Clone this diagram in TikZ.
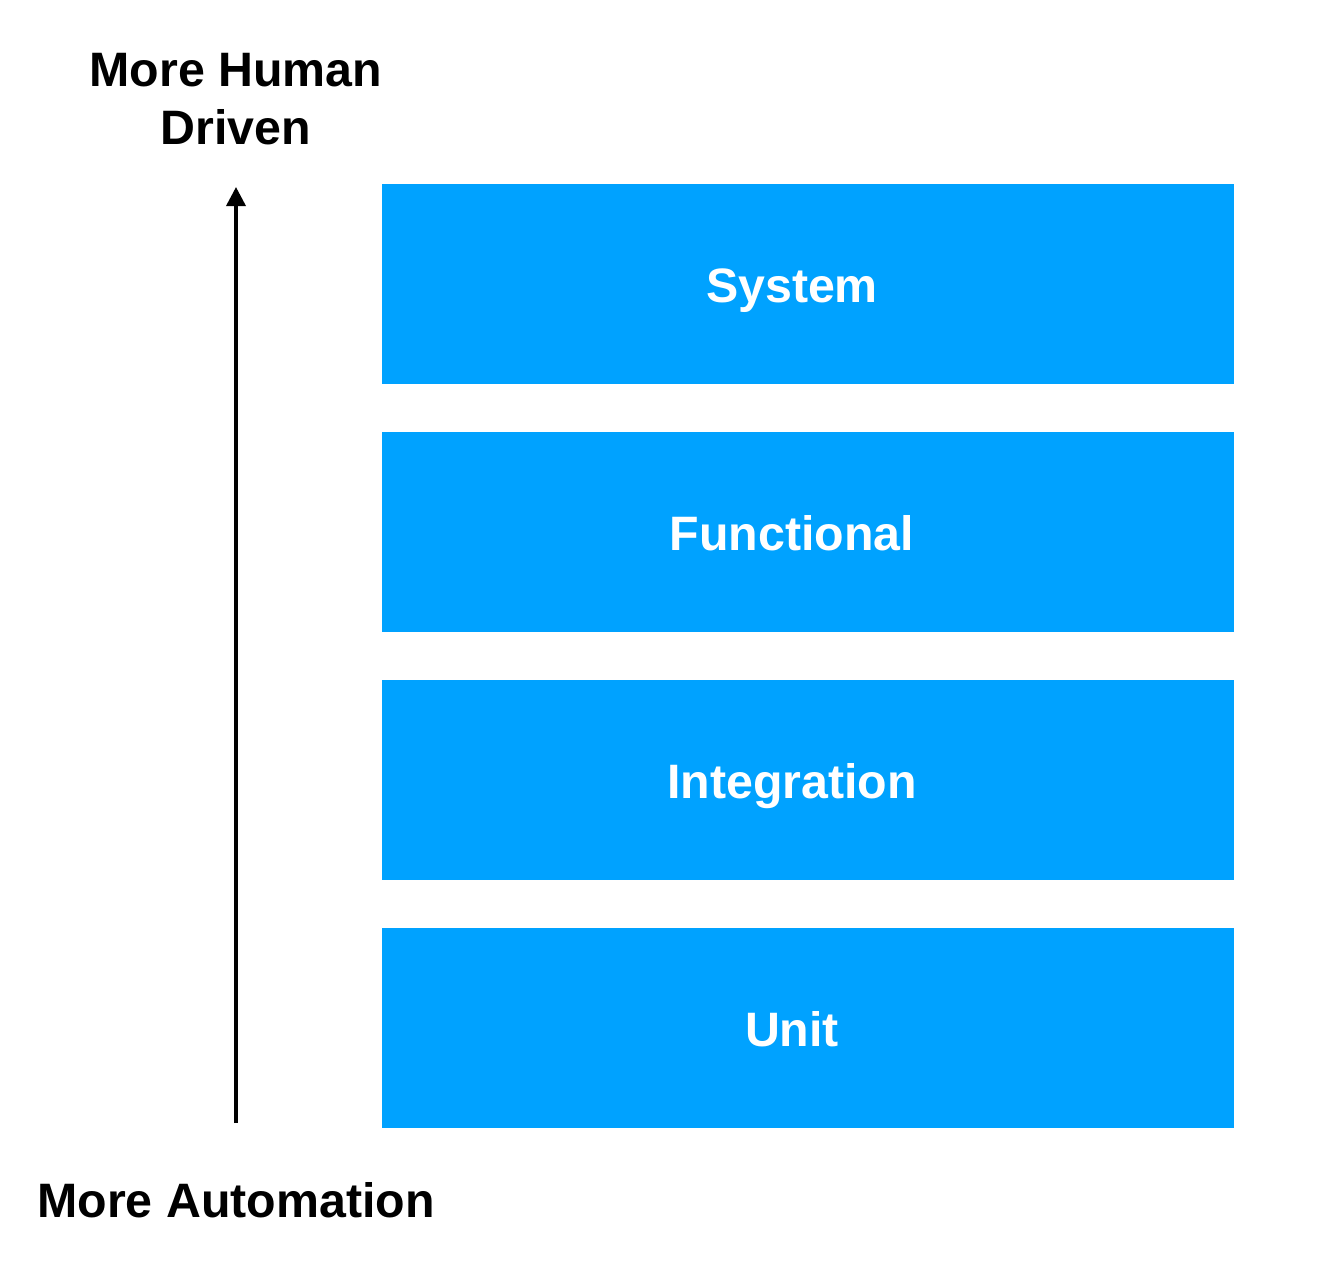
\documentclass[tikz,border=0pt]{standalone}
\usepackage{fontspec}
\setmainfont{Liberation Sans}
\usetikzlibrary{arrows.meta}
\definecolor{layerblue}{RGB}{0,162,255}
\tikzset{
	layer/.style={fill=layerblue, draw=none, minimum width=17.04cm, minimum height=4cm, inner sep=0pt},
	lbl/.style={text=white, font=\fontsize{27.5}{33}\selectfont\bfseries, inner sep=0pt, text height=0.69cm, text depth=0pt, xshift=-0.32cm, yshift=-0.03cm},
	side/.style={font=\fontsize{27.5}{33}\selectfont\bfseries, inner sep=0pt, align=center}
}
\begin{document}
\begin{tikzpicture}[x=0.02cm, y=-0.02cm]
	\useasboundingbox (0, 0) rectangle (1332, 1272);

	\node[layer, label={[lbl]center:System}] (system) at (808, 284) {};
	\node[layer, label={[lbl]center:Functional}] (functional) at (808, 532) {};
	\node[layer, label={[lbl]center:Integration}] (integration) at (808, 780) {};
	\node[layer, label={[lbl]center:Unit}] (unit) at (808, 1028) {};

	\node[side, anchor=north] (human) at (236, 53) {More Human\\Driven};
	\node[side, anchor=base] (auto) at (236, 1217) {More Automation};

	\coordinate (low) at (236, 1123);
	\coordinate (high) at (236, 187);
	\draw[line width=2pt, -{Triangle[length=0.38cm, width=0.38cm]}] (low) -- (high);
\end{tikzpicture}
\end{document}
